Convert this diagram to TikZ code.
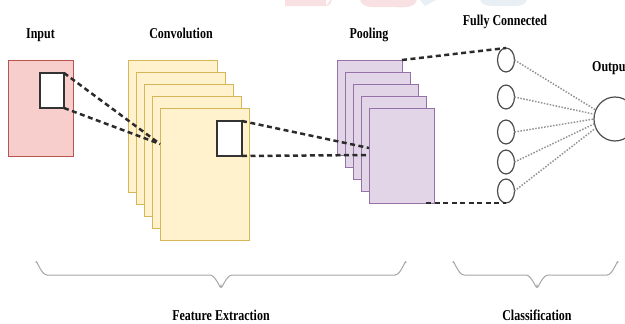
\documentclass[tikz,border=0pt]{standalone}
\usepackage{fontspec}
\setmainfont{Liberation Serif}
\usepackage{graphicx}
\usetikzlibrary{shapes.geometric}
\definecolor{inFill}{HTML}{F8CECC}
\definecolor{inDraw}{HTML}{B85450}
\definecolor{cvFill}{HTML}{FFF2CC}
\definecolor{cvDraw}{HTML}{D6B656}
\definecolor{plFill}{HTML}{E1D5E7}
\definecolor{plDraw}{HTML}{9673A6}
\definecolor{dashcol}{HTML}{2B2B2B}
\definecolor{wmPink}{HTML}{F9E0E2}
\definecolor{wmBlue}{HTML}{E8F0F6}
\newcommand{\lbl}[1]{\scalebox{0.8}[1]{\fontsize{15}{15}\selectfont\bfseries #1}}
\begin{document}
\begin{tikzpicture}[x=1pt,y=-1pt,
  box/.style={rectangle, draw, line width=0.8pt, inner sep=0pt, outer sep=0pt, anchor=north west},
  inbox/.style={box, fill=inFill, draw=inDraw, minimum width=65pt, minimum height=96pt},
  cvbox/.style={box, fill=cvFill, draw=cvDraw, minimum width=89pt, minimum height=132pt},
  plbox/.style={box, fill=plFill, draw=plDraw, minimum width=65pt, minimum height=95pt},
  kern/.style={box, fill=white, draw=black!80, line width=1.2pt},
  neuron/.style={ellipse, draw=black!70, line width=1.2pt, fill=white, minimum width=17pt, minimum height=24pt, inner sep=0pt, outer sep=0pt},
  conn/.style={line width=2.5pt, draw=dashcol, dash pattern=on 5pt off 3.5pt},
  fcl/.style={line width=1.5pt, draw=gray!85, dash pattern=on 1.5pt off 1.5pt},
  brace/.style={draw=gray!70, line width=1pt},
  lab/.style={inner sep=0pt, anchor=base}]
\useasboundingbox (0,0) rectangle (625,324);
\clip (0,0) rectangle (625,324);
% faint watermark remains at the top edge
\fill[wmPink] (285,-2) rectangle (326,6) to[out=0,in=-90] (332,-2) -- cycle;
\fill[wmPink] (360,-2) to[out=-90,in=180] (388,7) to[out=0,in=-90] (417,-2) -- cycle;
\fill[wmBlue] (418,-2) -- (440,-2) -- (425,6) -- cycle;
\fill[wmBlue] (480,-2) to[out=-90,in=180] (503,6) to[out=0,in=-90] (527,-2) -- cycle;
% input
\node[inbox] (in) at (8,60) {};
\node[kern, minimum width=24pt, minimum height=35pt] (ink) at (40,73) {};
% convolution stack
\foreach \i in {1,...,5} \node[cvbox] (c\i) at ({128+8*(\i-1)},{60+12*(\i-1)}) {};
\node[kern, minimum width=25pt, minimum height=35pt] (ck) at (217,121) {};
% pooling stack
\foreach \i in {1,...,5} \node[plbox] (p\i) at ({337+8*(\i-1)},{60+12*(\i-1)}) {};
% fully connected neurons
\node[neuron] (f1) at (506,60) {};
\node[neuron] (f2) at (506,97) {};
\node[neuron] (f3) at (506,132) {};
\node[neuron] (f4) at (506,162) {};
\node[neuron] (f5) at (506,191) {};
\node[ellipse, draw=black!70, line width=1.2pt, minimum width=42pt, minimum height=44pt, inner sep=0pt, outer sep=0pt] (out) at (615,119) {};
% connector end points
\coordinate (cin) at (160,144);
\coordinate (pa) at (369,148);
\coordinate (pb) at (369,155);
\coordinate (pbot) at (426,203);
% dashed connectors
\draw[conn] (ink.north east) -- (cin);
\draw[conn] (ink.south east) -- (cin);
\draw[conn] (ck.north east) -- (pa);
\draw[conn] (ck.south east) -- (pb);
\draw[conn] (p1.north east) -- (f1.north);
\draw[conn] (pbot) -- (f5.south);
% dotted fully connected lines
\draw[fcl] (f1.east) -- (out.155);
\draw[fcl] (f2.east) -- (out.167);
\draw[fcl] (f3.east) -- (out.180);
\draw[fcl] (f4.east) -- (out.193);
\draw[fcl] (f5.east) -- (out.205);
% braces
\draw[brace] (36,263) to[out=90,in=180] (47,275) -- (210,275) to[out=0,in=-90] (221,286) to[out=-90,in=180] (232,275) -- (395,275) to[out=0,in=90] (406,263);
\draw[brace] (453,263) to[out=90,in=180] (464,275) -- (526,275) to[out=0,in=-90] (537,286) to[out=-90,in=180] (548,275) -- (607,275) to[out=0,in=90] (618,263);
% labels
\node[lab] (tin) at (40.5,38) {\lbl{Input}};
\node[lab] (tcv) at (181,38) {\lbl{Convolution}};
\node[lab] (tpl) at (369,38) {\lbl{Pooling}};
\node[lab] (tfc) at (505,25) {\lbl{Fully Connected}};
\node[inner sep=0pt, anchor=base west] (tout) at (592,71) {\lbl{Output}};
\node[lab] (tfe) at (221,320) {\lbl{Feature Extraction}};
\node[lab] (tcl) at (537,320) {\lbl{Classification}};
\end{tikzpicture}
\end{document}
